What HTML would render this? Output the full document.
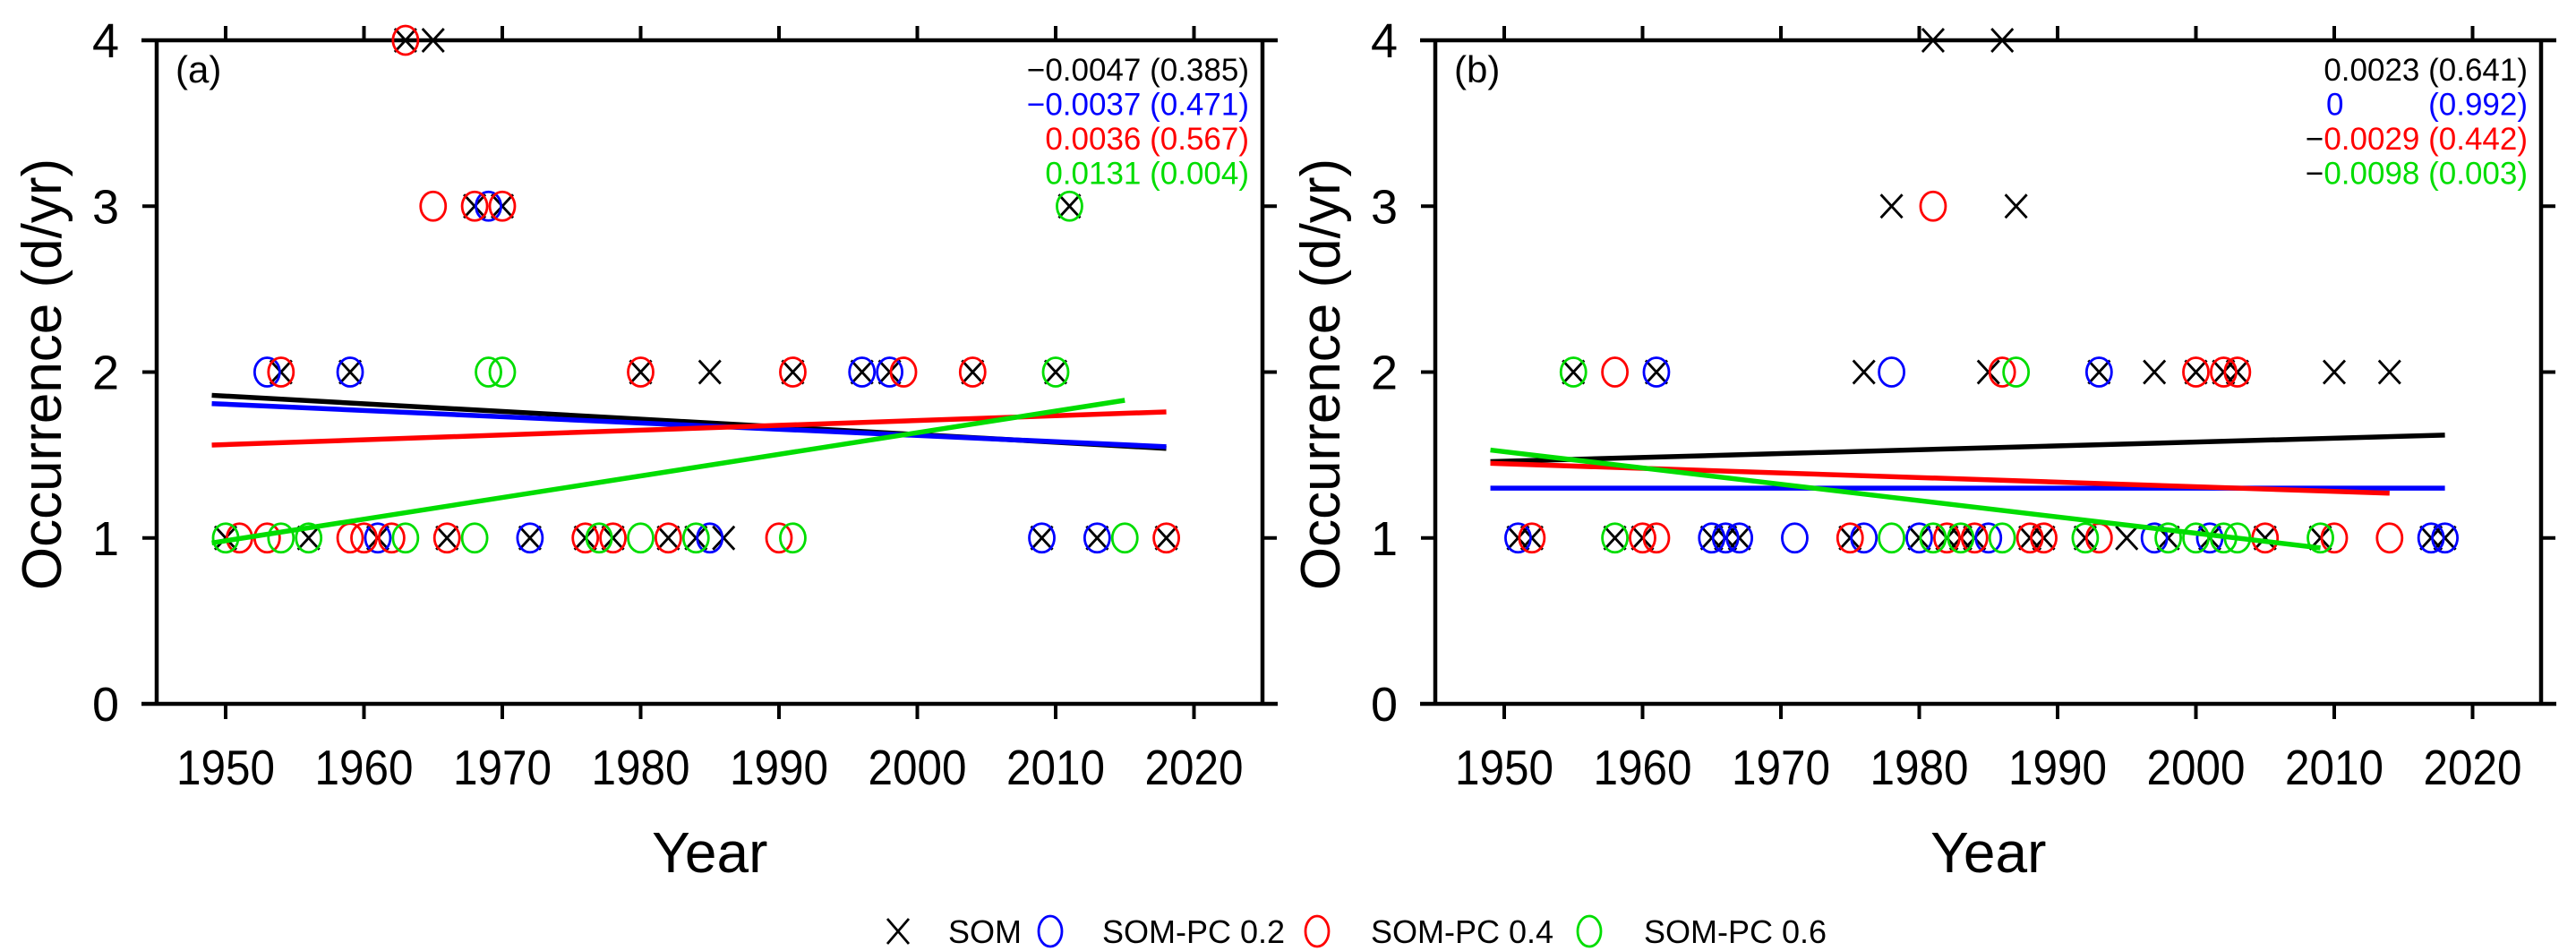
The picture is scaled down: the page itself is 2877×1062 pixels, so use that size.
<!DOCTYPE html>
<html><head><meta charset="utf-8"><style>
html,body{margin:0;padding:0;background:#fff}
svg{display:block;font-family:"Liberation Sans",Arial,sans-serif}
</style></head><body>
<svg id="chart" width="2877" height="1062" viewBox="0 0 2877 1062" xmlns="http://www.w3.org/2000/svg"></svg>
<script>
const xTicks = [1950,1960,1970,1980,1990,2000,2010,2020];
const yTicks = [0,1,2,3,4];
// Panel (a)
const aSOMyears = [1963,1965,1968,1970,2011,1954,1959,1980,1985,1991,1996,1998,2004,2010,1950,1956,1961,1966,1972,1976,1978,1982,1984,1986,2009,2013,2018];
const aSOMvals  = [4,4,3,3,3,2,2,2,2,2,2,2,2,2,1,1,1,1,1,1,1,1,1,1,1,1,1];
const aPC2years = [1969,1953,1959,1996,1998,1961,1972,1985,2009,2013];
const aPC2vals  = [3,2,2,2,2,1,1,1,1,1];
const aPC4years = [1963,1965,1968,1970,1954,1980,1991,1999,2004,1951,1953,1959,1960,1962,1966,1976,1978,1982,1990,2018];
const aPC4vals  = [4,3,3,3,2,2,2,2,2,1,1,1,1,1,1,1,1,1,1,1];
const aPC6years = [2011,1969,1970,2010,1950,1954,1956,1963,1968,1977,1980,1984,1991,2015];
const aPC6vals  = [3,2,2,2,1,1,1,1,1,1,1,1,1,1];
const aTrendX0 = [1949,1949,1949,1949];
const aTrendY0 = [1.86,1.81,1.56,0.97];
const aTrendX1 = [2018,2018,2018,2015];
const aTrendY1 = [1.54,1.55,1.76,1.83];
const aSlopes = ["\u22120.0047","\u22120.0037","0.0036","0.0131"];
const aPvals  = ["(0.385)","(0.471)","(0.567)","(0.004)"];
// Panel (b)
const bSOMyears = [1981,1986,1978,1987,1955,1961,1976,1985,1993,1997,2000,2002,2003,2010,2014,1951,1952,1958,1960,1965,1966,1967,1975,1980,1982,1983,1984,1988,1989,1992,1995,1998,2001,2005,2009,2017,2018];
const bSOMvals  = [4,4,3,3,2,2,2,2,2,2,2,2,2,2,2,1,1,1,1,1,1,1,1,1,1,1,1,1,1,1,1,1,1,1,1,1,1];
const bPC2years = [1961,1978,1993,1951,1965,1966,1967,1971,1976,1980,1985,1997,2001,2017,2018];
const bPC2vals  = [2,2,2,1,1,1,1,1,1,1,1,1,1,1,1];
const bPC4years = [1981,1958,1986,2000,2002,2003,1952,1960,1961,1975,1982,1984,1988,1989,1993,2005,2010,2014];
const bPC4vals  = [3,2,2,2,2,2,1,1,1,1,1,1,1,1,1,1,1,1];
const bPC6years = [1955,1987,1958,1978,1981,1983,1986,1992,1998,2000,2002,2003,2009];
const bPC6vals  = [2,2,1,1,1,1,1,1,1,1,1,1,1];
const bTrendX0 = [1949,1949,1949,1949];
const bTrendY0 = [1.46,1.30,1.45,1.53];
const bTrendX1 = [2018,2018,2014,2009];
const bTrendY1 = [1.62,1.30,1.27,0.94];
const bSlopes = ["0.0023","0","\u22120.0029","\u22120.0098"];
const bPvals  = ["(0.641)","(0.992)","(0.442)","(0.003)"];

const colors = ["#000000","#0000ff","#ff0000","#00dd00"];
const NS="http://www.w3.org/2000/svg";
const svg=document.getElementById('chart');
function mk(tag,attrs,parent){const e=document.createElementNS(NS,tag);for(const k in attrs)e.setAttribute(k,attrs[k]);(parent||svg).appendChild(e);return e;}

function panel(off,label,series,tx0,ty0,tx1,ty1,slopes,pvals,isB){
  const g=mk('g',{});
  
  
  const L=175+off,R=1410+off,T=45,B=786;
  const xs=y=>252+off+(y-1950)*15.45;
  const ys=v=>B-(v/4)*(B-T);
  const ax=mk('path',{d:`M${L} ${T}V${B}M${158+off} ${T}H${1427+off}M${158+off} ${B}H${1427+off}M${R} ${T}V${B}`,stroke:'#000','stroke-width':4.5,fill:'none'},g);
  
  
  xTicks.forEach(t=>{
    const x=xs(t);
    mk('line',{x1:x,x2:x,y1:T,y2:T-16,stroke:'#000','stroke-width':4},g);
    mk('line',{x1:x,x2:x,y1:B,y2:B+17,stroke:'#000','stroke-width':4},g);
    const tl=mk('text',{x:x,y:876,'font-size':55,'text-anchor':'middle',textLength:110,lengthAdjust:'spacingAndGlyphs'},g);
    tl.textContent=t;
    
    
  });
  yTicks.forEach(t=>{
    const y=ys(t);
    mk('line',{x1:L,x2:L-16,y1:y,y2:y,stroke:'#000','stroke-width':4},g);
    mk('line',{x1:R,x2:R+16,y1:y,y2:y,stroke:'#000','stroke-width':4},g);
    const tl=mk('text',{x:118+off,y:y+19,'font-size':54,'text-anchor':'middle'},g);
    tl.textContent=t;
    
    
  });
  const yt=mk('text',{x:0,y:0,'font-size':62,'text-anchor':'middle',transform:`translate(${68+off},418) rotate(-90)`},g);
  yt.textContent='Occurrence (d/yr)';
  
  
  const xt=mk('text',{x:xs(1985),y:974,'font-size':64,'text-anchor':'middle'},g);
  xt.textContent='Year';
  
  
  const pl=mk('text',{x:196+off,y:92,'font-size':42},g);
  pl.textContent='('+label+')';
  
  
  series.forEach((s,si)=>{
    s.years.forEach((yr,i)=>{
      const cx=xs(yr),cy=ys(s.vals[i]);
      let m;
      if(si===0){
        m=mk('path',{d:`M${cx-12} ${cy-13}L${cx+12} ${cy+13}M${cx-12} ${cy+13}L${cx+12} ${cy-13}`,stroke:'#000','stroke-width':2.8,fill:'none'},g);
        
      } else {
        m=mk('ellipse',{cx:cx,cy:cy,rx:14,ry:16,stroke:colors[si],'stroke-width':2.8,fill:'none'},g);
        
      }
      
    });
  });
  [0,1,2,3].forEach(i=>{
    const ln=mk('line',{x1:xs(tx0[i]),y1:ys(ty0[i]),x2:xs(tx1[i]),y2:ys(ty1[i]),stroke:colors[i],'stroke-width':5.5},g);
    
    
  });
  const rx=isB?2823:1395;
  [0,1,2,3].forEach(i=>{
    const y=90+i*38.5;
    const t=mk('text',{x:rx,y:y,'font-size':35,'text-anchor':'end',fill:colors[i]},g);
    
    
    if(isB && i===1){
      t.textContent=pvals[i];
      const z=mk('text',{x:2598,y:y,'font-size':35,fill:colors[i]},g);
      z.textContent=slopes[i];
      
      
    } else {
      const s=slopes[i];
      if(isB && s[0]==='\u2212'){
        const m1=mk('tspan',{fill:'#000'},t);m1.textContent='\u2212';
        const m2=mk('tspan',{},t);m2.textContent=s.slice(1)+' '+pvals[i];
      } else t.textContent=s+' '+pvals[i];
    }
  });
}
panel(0,'a',[{years:aSOMyears,vals:aSOMvals},{years:aPC2years,vals:aPC2vals},{years:aPC4years,vals:aPC4vals},{years:aPC6years,vals:aPC6vals}],aTrendX0,aTrendY0,aTrendX1,aTrendY1,aSlopes,aPvals,false);
panel(1428,'b',[{years:bSOMyears,vals:bSOMvals},{years:bPC2years,vals:bPC2vals},{years:bPC4years,vals:bPC4vals},{years:bPC6years,vals:bPC6vals}],bTrendX0,bTrendY0,bTrendX1,bTrendY1,bSlopes,bPvals,true);

const lg=mk('g',{});


const ly=1040;
const lx=mk('path',{d:`M${991} ${ly-14}L${1015} ${ly+14}M${991} ${ly+14}L${1015} ${ly-14}`,stroke:'#000','stroke-width':2.8,fill:'none'},lg);


const legItems=[{cx:null,tx:1059,label:'SOM'},{cx:1173,tx:1231,label:'SOM-PC 0.2'},{cx:1471,tx:1531,label:'SOM-PC 0.4'},{cx:1775,tx:1836,label:'SOM-PC 0.6'}];
legItems.forEach((it,i)=>{
  if(it.cx){
    const c=mk('ellipse',{cx:it.cx,cy:ly,rx:13,ry:17,stroke:colors[i],'stroke-width':2.8,fill:'none'},lg);
    
    
  }
  const t=mk('text',{x:it.tx,y:ly+13,'font-size':36},lg);
  t.textContent=it.label;
  
  
});
</script>
</body></html>
